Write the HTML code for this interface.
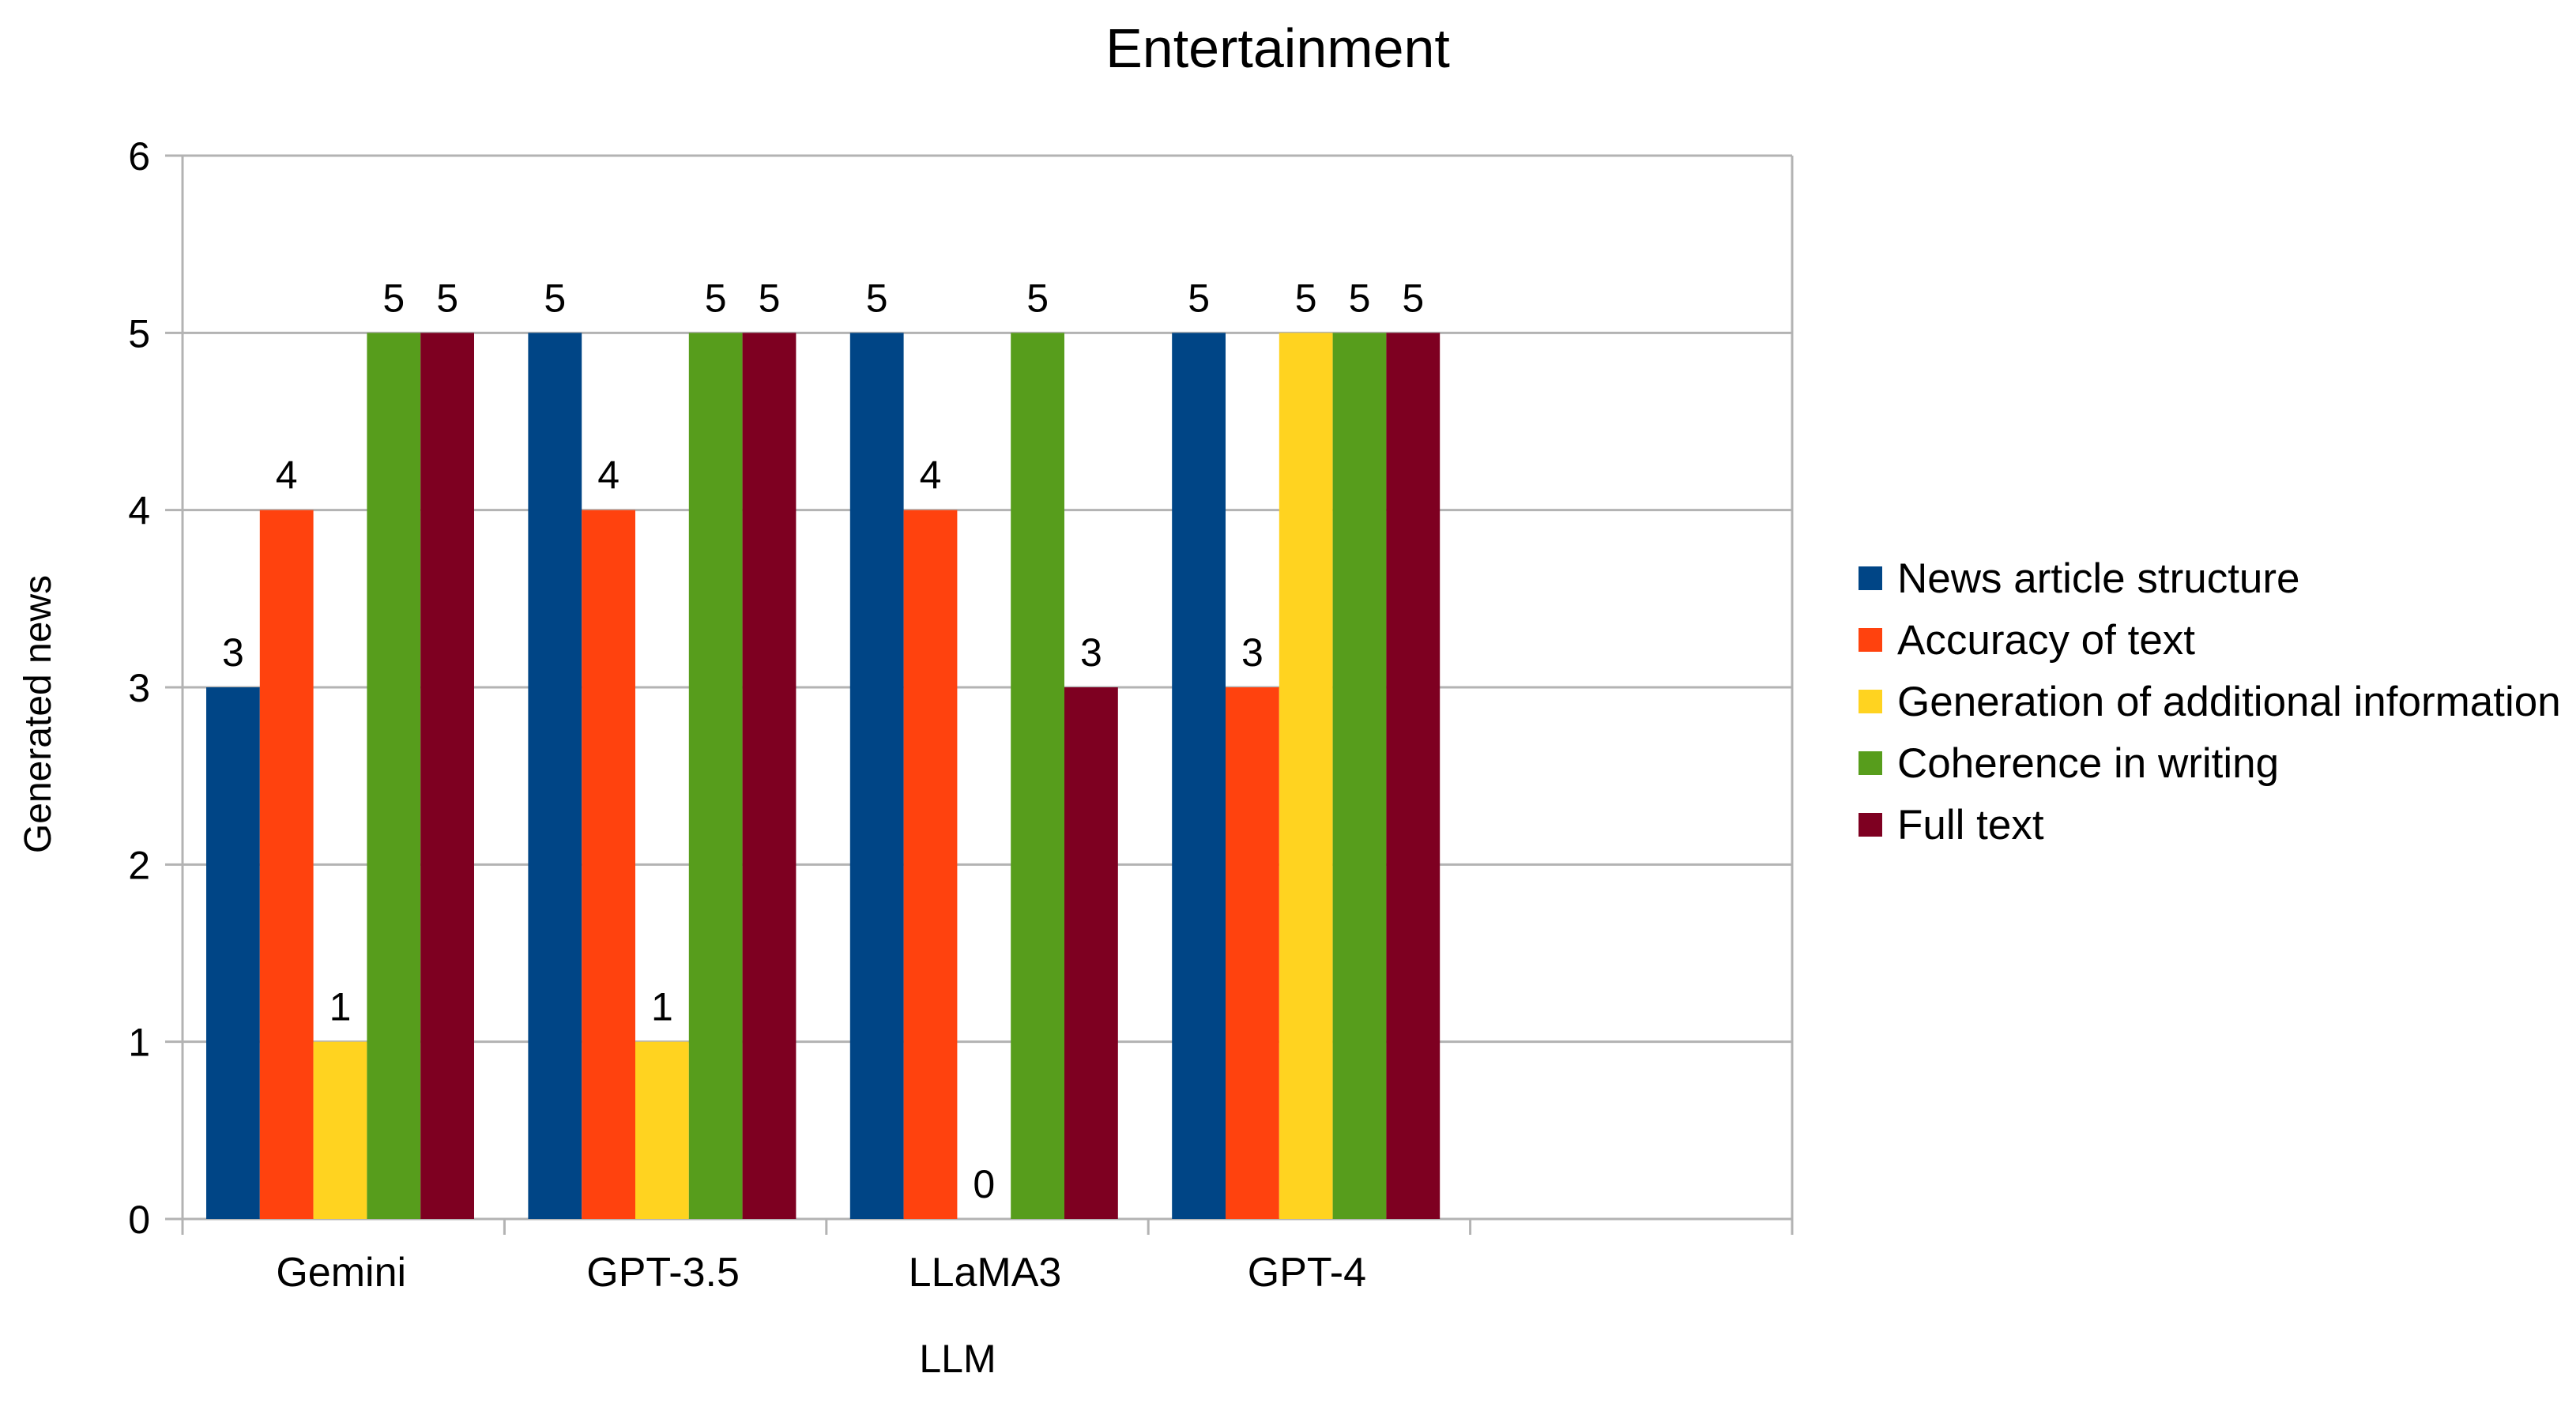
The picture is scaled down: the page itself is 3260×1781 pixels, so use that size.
<!DOCTYPE html>
<html><head><meta charset="utf-8"><style>
html,body{margin:0;padding:0;background:#fff;}
svg{display:block;font-family:"Liberation Sans",sans-serif;}
</style></head><body>
<svg id="chart" width="3260" height="1781" viewBox="0 0 3260 1781">
<text x="1617" y="85" font-size="70" text-anchor="middle" fill="#000">Entertainment</text>
<g id="grid"></g>
<g id="bars"></g>
<g id="labels"></g>
<text x="1212" y="1737" font-size="50" text-anchor="middle">LLM</text>
<text transform="translate(64,904) rotate(-90)" font-size="48" text-anchor="middle">Generated news</text>
<g id="legend"></g>
</svg>
<script>
const categories = ["Gemini", "GPT-3.5", "LLaMA3", "GPT-4", ""];
const seriesNames = ["News article structure", "Accuracy of text", "Generation of additional information", "Coherence in writing", "Full text"];
const structureVals = [3, 5, 5, 5];
const accuracyVals = [4, 4, 4, 3];
const additionalVals = [1, 1, 0, 5];
const coherenceVals = [5, 5, 5, 5];
const fullTextVals = [5, 5, 3, 5];
const yTicks = [0, 1, 2, 3, 4, 5, 6];
const colors = ["#004586", "#ff420e", "#ffd320", "#579d1c", "#7e0021"];
const series = [structureVals, accuracyVals, additionalVals, coherenceVals, fullTextVals];

const NS = "http://www.w3.org/2000/svg";
const X0 = 231, X1 = 2268, Y0 = 1543, Y1 = 197;
const yMax = 6;
const slotW = (X1 - X0) / categories.length;
const yScale = v => Y0 - (v / yMax) * (Y0 - Y1);
const barW = 67.8;
const groupPad = 30;
const xBar = (ci, si) => X0 + ci * slotW + groupPad + si * barW;

function mk(tag, attrs, parent) {
  const e = document.createElementNS(NS, tag);
  for (const k in attrs) e.setAttribute(k, attrs[k]);
  parent.appendChild(e);
  return e;
}
const grid = document.getElementById("grid");
const bars = document.getElementById("bars");
const labels = document.getElementById("labels");
const legend = document.getElementById("legend");

yTicks.forEach(t => {
  const y = yScale(t);
  const l = mk("line", {x1: X0 - 22, x2: X1, y1: y, y2: y, stroke: "#b3b3b3", "stroke-width": 3}, grid);
  
  
  const tx = mk("text", {x: 190, y: y + 18, "font-size": 50, "text-anchor": "end"}, grid);
  tx.textContent = t;
  
  
});
const ax = mk("line", {x1: X0, x2: X0, y1: Y1, y2: Y0 + 20, stroke: "#b3b3b3", "stroke-width": 3}, grid);


const rx = mk("line", {x1: X1, x2: X1, y1: Y1, y2: Y0 + 20, stroke: "#b3b3b3", "stroke-width": 3}, grid);


for (let i = 1; i < categories.length; i++) {
  const x = X0 + i * slotW;
  const tk = mk("line", {x1: x, x2: x, y1: Y0, y2: Y0 + 20, stroke: "#b3b3b3", "stroke-width": 3}, grid);
  
  
}
categories.forEach((c, ci) => {
  const t = mk("text", {x: X0 + (ci + 0.5) * slotW - 3, y: 1628, "font-size": 52, "text-anchor": "middle"}, labels);
  t.textContent = c;
  
  
});
series.forEach((vals, si) => {
  vals.forEach((v, ci) => {
    const x = xBar(ci, si), y = yScale(v);
    const r = mk("rect", {x: x, y: y, width: barW, height: Y0 - y, fill: colors[si]}, bars);
    
    
    const t = mk("text", {x: x + barW / 2, y: y - 27, "font-size": 50, "text-anchor": "middle"}, labels);
    t.textContent = v;
    
    
  });
});
seriesNames.forEach((n, i) => {
  const y = 732 + i * 78;
  const s = mk("rect", {x: 2352, y: y - 15, width: 30, height: 30, fill: colors[i]}, legend);
  
  
  const t = mk("text", {x: 2401, y: y + 18, "font-size": 53}, legend);
  t.textContent = n;
  
  
});
</script>
</body></html>
